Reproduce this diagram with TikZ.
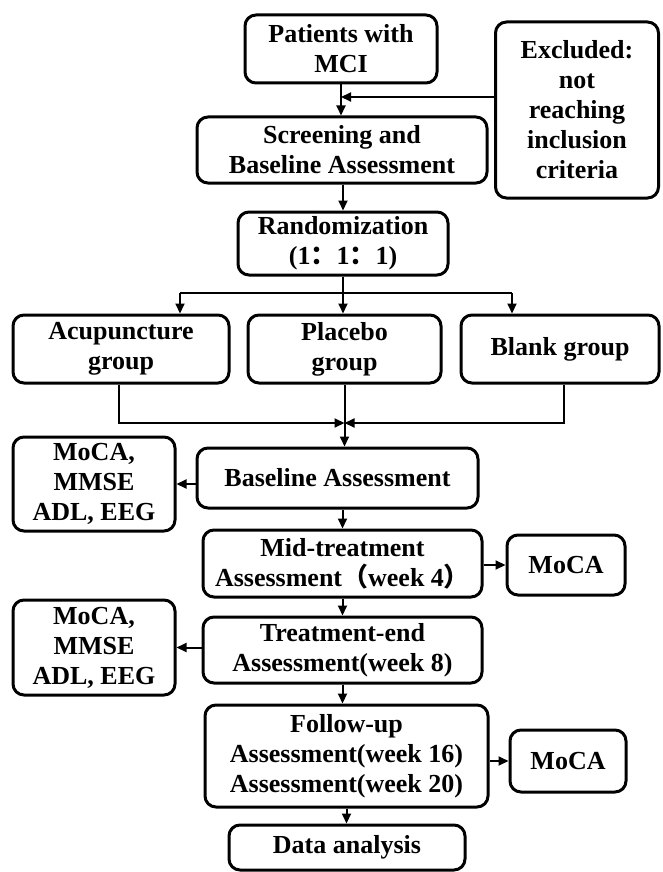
\documentclass[tikz,border=0pt]{standalone}
\usepackage{fontspec}
\setmainfont{Liberation Serif}
\newfontfamily\cjk{Noto Sans CJK SC}
\usetikzlibrary{arrows.meta}
\begin{document}
\begin{tikzpicture}[x=1pt,y=-1pt,
  box/.style={draw, line width=3pt, rounded corners=11pt, align=center,
    font=\fontsize{26}{30}\selectfont\bfseries, inner sep=0pt, anchor=center},
  arr/.style={line width=2pt, -{Triangle[length=10pt,width=9pt]}},
  ln/.style={line width=2pt}]
\useasboundingbox (0,0) rectangle (662,872);

\node[box, minimum width=192pt, minimum height=68pt] (pat) at (341,49) {Patients with\\MCI};
\node[box, minimum width=163pt, minimum height=176pt] (exc) at (577,110) {Excluded:\\not\\reaching\\inclusion\\criteria};
\node[box, minimum width=290pt, minimum height=66pt] (scr) at (342,150) {Screening and\\Baseline Assessment};
\node[box, minimum width=210pt, minimum height=63pt] (rand) at (343,243.5) {Randomization\\(1{\cjk ：}1{\cjk ：}1)};
\node[box, minimum width=216pt, minimum height=68pt] (acu) at (121,349) {Acupuncture\\group};
\node[box, minimum width=193pt, minimum height=68pt] (pla) at (344.5,349) {Placebo\\group};
\node[box, minimum width=198pt, minimum height=68pt] (bla) at (560,349) {Blank group};
\node[box, minimum width=281pt, minimum height=60pt] (base) at (337.5,478) {Baseline Assessment};
\node[box, minimum width=162pt, minimum height=94pt] (mocaLa) at (94,484) {MoCA,\\MMSE\\ADL, EEG};
\node[box, minimum width=279pt, minimum height=67pt] (mid) at (342.5,563.5) {Mid-treatment\\Assessment{\cjk （}week 4{\cjk ）}};
\node[box, minimum width=118pt, minimum height=60pt] (mocaRa) at (566,565) {MoCA};
\node[box, minimum width=279pt, minimum height=66pt] (tend) at (342.5,650) {Treatment-end\\Assessment(week 8)};
\node[box, minimum width=162pt, minimum height=95pt] (mocaLb) at (94,647.5) {MoCA,\\MMSE\\ADL, EEG};
\node[box, minimum width=283pt, minimum height=102pt] (fol) at (346.5,756) {Follow-up\\Assessment(week 16)\\Assessment(week 20)};
\node[box, minimum width=116pt, minimum height=62pt] (mocaRb) at (568,761) {MoCA};
\node[box, minimum width=236pt, minimum height=45pt] (data) at (347,847.5) {Data analysis};

% top
\draw[arr] (pat.south) -- (pat.south |- scr.north);
\coordinate (j1) at (341,97);
\draw[arr] (exc.west |- j1) -- (j1);
\draw[arr] (scr.south -| rand) -- (rand.north);

% branch
\coordinate (bL) at (180,293);
\coordinate (bR) at (512,293);
\draw[ln] (bL) -- (bR);
\draw[arr] (bL) -- (bL |- acu.north);
\draw[arr] (rand.south) -- (rand.south |- pla.north);
\draw[arr] (bR) -- (bR |- bla.north);

% join
\coordinate (jL) at (119,423);
\coordinate (jR) at (564,423);
\coordinate (jc) at (344.5,423);
\draw[arr] (jL |- acu.south) -- (jL) -- (jc);
\draw[arr] (jR |- bla.south) -- (jR) -- (jc);
\draw[arr] (pla.south) -- (pla.south |- base.north);

% side arrows
\draw[arr] (base.west |- mocaLa) -- (mocaLa.east);
\draw[arr] (mid.east |- mocaRa) -- (mocaRa.west);
\draw[arr] (tend.west |- mocaLb) -- (mocaLb.east);
\draw[arr] (fol.east |- mocaRb) -- (mocaRb.west);

% chain
\draw[arr] (base.south -| mid) -- (mid.north);
\draw[arr] (mid.south) -- (mid.south |- tend.north);
\draw[arr] (tend.south) -- (tend.south |- fol.north);
\draw[arr] (fol.south) -- (fol.south |- data.north);
\end{tikzpicture}
\end{document}
